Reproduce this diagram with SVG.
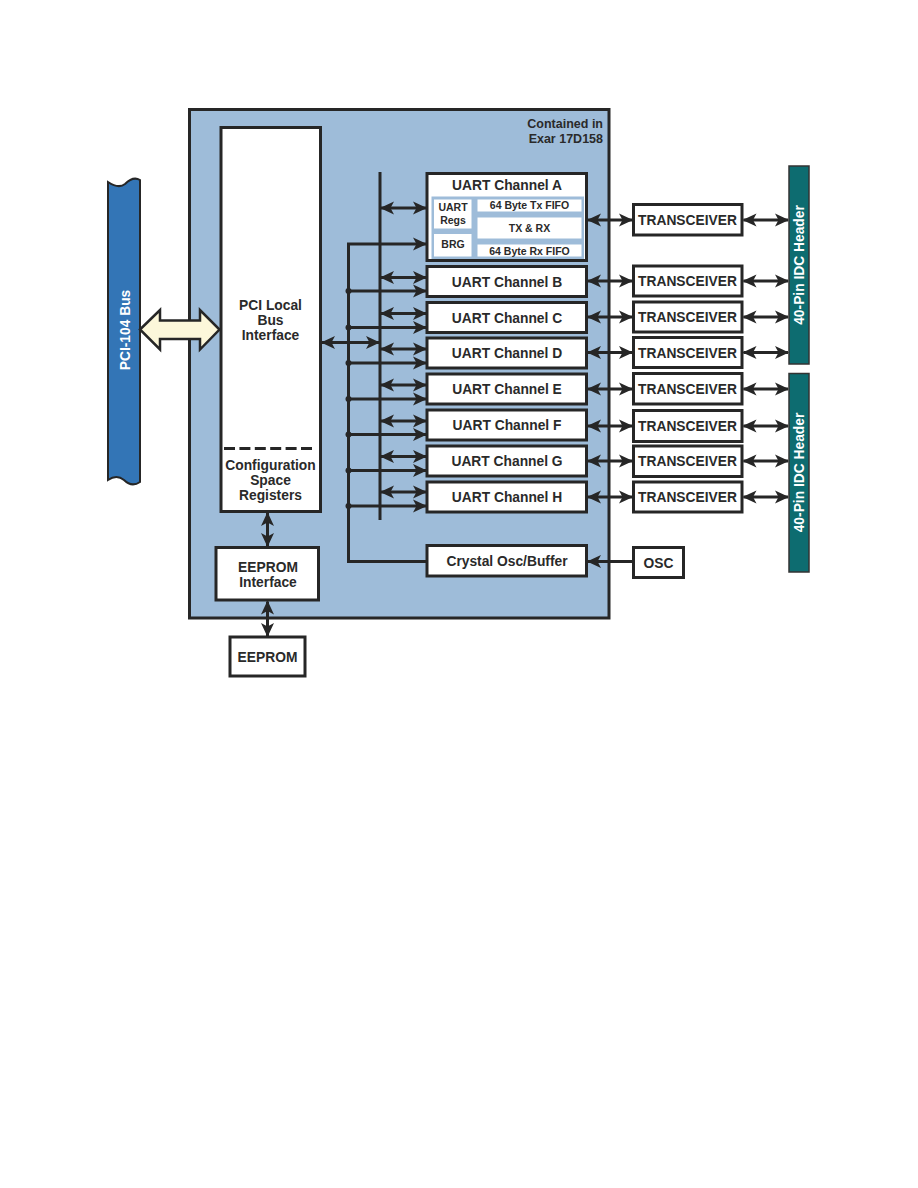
<svg xmlns="http://www.w3.org/2000/svg" width="918" height="1188" viewBox="0 0 918 1188">
<defs>
<marker id="ah" viewBox="0 0 14 14" refX="13" refY="7" markerWidth="14" markerHeight="14" markerUnits="userSpaceOnUse" orient="auto-start-reverse">
<path d="M0,0.5 L14,7 L0,13.5 L3.5,7 z" fill="#262626"/>
</marker>
<style>
.box{fill:#ffffff;stroke:#262626;stroke-width:3}
.cell{fill:#ffffff}
.t{font-family:"Liberation Sans",Arial,sans-serif;font-weight:bold;font-size:13.8px;fill:#2a2a2a;text-anchor:middle}
.s{font-family:"Liberation Sans",Arial,sans-serif;font-weight:bold;font-size:10.5px;fill:#2a2a2a;text-anchor:middle}
.w{font-family:"Liberation Sans",Arial,sans-serif;font-weight:bold;font-size:13.8px;fill:#ffffff;text-anchor:middle}
.c{fill:none;stroke:#262626;stroke-width:3}
.a{fill:none;stroke:#262626;stroke-width:3;marker-end:url(#ah)}
.d{fill:none;stroke:#262626;stroke-width:3;marker-start:url(#ah);marker-end:url(#ah)}
</style>
</defs>
<rect width="918" height="1188" fill="#ffffff"/>

<g id="chip">
<rect x="189.5" y="109.5" width="419.5" height="508.5" fill="#9ebcd9" stroke="#262626" stroke-width="3"/>
<text class="t" x="603" y="128" style="text-anchor:end;font-size:12.5px">Contained in</text>
<text class="t" x="603" y="143" style="text-anchor:end;font-size:12.5px">Exar 17D158</text>
</g>

<g id="pci104bus">
<path d="M108,182 C114,186 120,188 125,184 C130,179 135,177 140,180 L140,482 C134,486 129,485 124,480 C119,476 114,476 108,480 Z" fill="#3375b6" stroke="#262626" stroke-width="2"/>
<text class="w" transform="translate(129.5,330) rotate(-90)">PCI-104 Bus</text>
</g>

<g id="pcibusarrow">
<path d="M140,329.5 L160,310 L160,320.5 L200,320.5 L200,310 L219.5,329.5 L200,349.5 L200,339 L160,339 L160,349.5 Z" fill="#fcf7da" stroke="#262626" stroke-width="2.5" stroke-linejoin="miter"/>
</g>

<g id="pciLocal">
<rect class="box" x="221" y="127.5" width="99.5" height="384"/>
<text class="t" x="270.5" y="310">PCI Local</text>
<text class="t" x="270.5" y="325">Bus</text>
<text class="t" x="270.5" y="340">Interface</text>
<line x1="224" y1="448.5" x2="312" y2="448.5" stroke="#262626" stroke-width="3" stroke-dasharray="11 4.4"/>
<text class="t" x="270.5" y="470">Configuration</text>
<text class="t" x="270.5" y="485">Space</text>
<text class="t" x="270.5" y="500">Registers</text>
</g>

<g id="eepromInterface">
<rect class="box" x="216" y="547.5" width="102.5" height="52.5"/>
<text class="t" x="268" y="571.5">EEPROM</text>
<text class="t" x="268" y="586.5">Interface</text>
</g>

<g id="eeprom">
<rect class="box" x="230" y="637" width="75" height="39"/>
<text class="t" x="267.5" y="661.5">EEPROM</text>
</g>

<g id="uartA">
<rect class="box" x="427" y="173.5" width="159.5" height="87"/>
<text class="t" x="507" y="190">UART Channel A</text>
<rect x="431.5" y="196.5" width="152.5" height="62.5" fill="#9ebcd9"/>
<rect class="cell" x="434" y="199.5" width="37.5" height="29"/>
<rect class="cell" x="434" y="234" width="37.5" height="22.5"/>
<rect class="cell" x="477.5" y="199.5" width="104" height="12"/>
<rect class="cell" x="477.5" y="217.5" width="104" height="21"/>
<rect class="cell" x="477.5" y="244.5" width="104" height="12"/>
<text class="s" x="453" y="210.5">UART</text>
<text class="s" x="453" y="223.5">Regs</text>
<text class="s" x="453" y="247.5">BRG</text>
<text class="s" x="529.5" y="209">64 Byte Tx FIFO</text>
<text class="s" x="529.5" y="231.5">TX &amp; RX</text>
<text class="s" x="529.5" y="254.5">64 Byte Rx FIFO</text>
</g>

<g id="uartB"><rect class="box" x="427" y="266.5" width="159.5" height="30"/><text class="t" x="507" y="286.5">UART Channel B</text></g>
<g id="uartC"><rect class="box" x="427" y="302.5" width="159.5" height="30"/><text class="t" x="507" y="322.5">UART Channel C</text></g>
<g id="uartD"><rect class="box" x="427" y="338" width="159.5" height="30"/><text class="t" x="507" y="358">UART Channel D</text></g>
<g id="uartE"><rect class="box" x="427" y="374" width="159.5" height="30"/><text class="t" x="507" y="394">UART Channel E</text></g>
<g id="uartF"><rect class="box" x="427" y="410" width="159.5" height="30"/><text class="t" x="507" y="430">UART Channel F</text></g>
<g id="uartG"><rect class="box" x="427" y="446" width="159.5" height="30"/><text class="t" x="507" y="466">UART Channel G</text></g>
<g id="uartH"><rect class="box" x="427" y="482" width="159.5" height="30"/><text class="t" x="507" y="502">UART Channel H</text></g>

<g id="crystal"><rect class="box" x="427" y="545.5" width="159.5" height="30.5"/><text class="t" x="507" y="566">Crystal Osc/Buffer</text></g>
<g id="osc"><rect class="box" x="633.5" y="547.5" width="50" height="30"/><text class="t" x="658.5" y="567.5">OSC</text></g>

<g id="xcvrA"><rect class="box" x="633.5" y="204.5" width="108.5" height="30.5"/><text class="t" x="687.5" y="225">TRANSCEIVER</text></g>
<g id="xcvrB"><rect class="box" x="633.5" y="266" width="108.5" height="30"/><text class="t" x="687.5" y="286">TRANSCEIVER</text></g>
<g id="xcvrC"><rect class="box" x="633.5" y="302" width="108.5" height="30"/><text class="t" x="687.5" y="322">TRANSCEIVER</text></g>
<g id="xcvrD"><rect class="box" x="633.5" y="337.5" width="108.5" height="30"/><text class="t" x="687.5" y="357.5">TRANSCEIVER</text></g>
<g id="xcvrE"><rect class="box" x="633.5" y="373.5" width="108.5" height="30.5"/><text class="t" x="687.5" y="394">TRANSCEIVER</text></g>
<g id="xcvrF"><rect class="box" x="633.5" y="410.5" width="108.5" height="31"/><text class="t" x="687.5" y="431">TRANSCEIVER</text></g>
<g id="xcvrG"><rect class="box" x="633.5" y="446" width="108.5" height="30.5"/><text class="t" x="687.5" y="466">TRANSCEIVER</text></g>
<g id="xcvrH"><rect class="box" x="633.5" y="482" width="108.5" height="30"/><text class="t" x="687.5" y="502">TRANSCEIVER</text></g>

<g id="header1">
<rect x="789" y="166" width="20" height="198" fill="#0d6c70" stroke="#333" stroke-width="1.5"/>
<text class="w" transform="translate(804,265) rotate(-90)">40-Pin IDC Header</text>
</g>
<g id="header2">
<rect x="789" y="373.5" width="20" height="198.5" fill="#0d6c70" stroke="#333" stroke-width="1.5"/>
<text class="w" transform="translate(804,472.5) rotate(-90)">40-Pin IDC Header</text>
</g>

<g id="connectors">
<line class="c" x1="380" y1="172" x2="380" y2="520"/>
<path class="a" d="M427,561.5 H348.5 V244 H426"/>
<path class="d" d="M322,342.5 H379"/>
<path class="d" d="M267.5,513 V546"/>
<path class="d" d="M267.5,601.5 V636"/>
<path class="d" d="M381,208 H426"/>
<path class="d" d="M381,277.5 H426"/>
<path class="d" d="M381,313.5 H426"/>
<path class="d" d="M381,349 H426"/>
<path class="d" d="M381,385 H426"/>
<path class="d" d="M381,421 H426"/>
<path class="d" d="M381,456.5 H426"/>
<path class="d" d="M381,492 H426"/>
<path class="a" d="M348.5,291 H426"/>
<path class="a" d="M348.5,327.5 H426"/>
<path class="a" d="M348.5,363 H426"/>
<path class="a" d="M348.5,399 H426"/>
<path class="a" d="M348.5,434.5 H426"/>
<path class="a" d="M348.5,470.5 H426"/>
<path class="a" d="M348.5,506 H426"/>
<g fill="#262626">
<circle cx="348.5" cy="291" r="3"/>
<circle cx="348.5" cy="327.5" r="3"/>
<circle cx="348.5" cy="363" r="3"/>
<circle cx="348.5" cy="399" r="3"/>
<circle cx="348.5" cy="434.5" r="3"/>
<circle cx="348.5" cy="470.5" r="3"/>
<circle cx="348.5" cy="506" r="3"/>
</g>
<path class="a" d="M633.5,561.5 H588"/>
<path class="d" d="M588,220 H632"/>
<path class="d" d="M588,281 H632"/>
<path class="d" d="M588,317 H632"/>
<path class="d" d="M588,352.5 H632"/>
<path class="d" d="M588,389 H632"/>
<path class="d" d="M588,426 H632"/>
<path class="d" d="M588,461 H632"/>
<path class="d" d="M588,497 H632"/>
<path class="d" d="M743.5,220 H788"/>
<path class="d" d="M743.5,281 H788"/>
<path class="d" d="M743.5,317 H788"/>
<path class="d" d="M743.5,352.5 H788"/>
<path class="d" d="M743.5,389 H788"/>
<path class="d" d="M743.5,426 H788"/>
<path class="d" d="M743.5,461 H788"/>
<path class="d" d="M743.5,497 H788"/>
</g>
</svg>
